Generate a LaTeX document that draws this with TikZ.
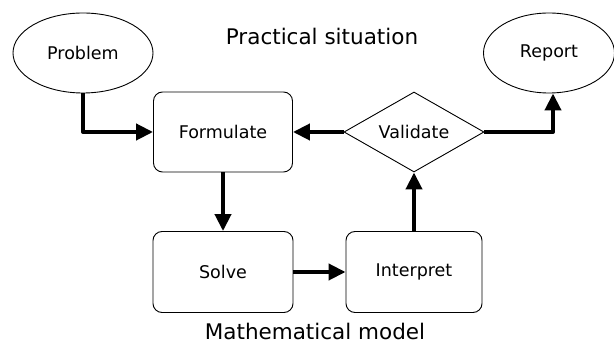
\documentclass[tikz,border=0pt]{standalone}
\usepackage{fontspec}
\setmainfont{DejaVu Sans}
\usetikzlibrary{shapes.geometric,arrows.meta}
\begin{document}
\begin{tikzpicture}[x=1pt,y=-1pt,
  endpt/.style={ellipse,draw,line width=0.9pt,minimum width=140pt,minimum height=80pt,inner sep=0pt,font=\fontsize{17.5}{20}\selectfont},
  procbox/.style={rectangle,rounded corners=9pt,draw,line width=0.9pt,minimum width=139pt,minimum height=80pt,inner sep=0pt,font=\fontsize{17.5}{20}\selectfont},
  decbox/.style={diamond,draw,line width=0.9pt,aspect=1.75,minimum width=140pt,minimum height=80pt,inner sep=0pt,font=\fontsize{17.5}{20}\selectfont},
  flow/.style={line width=4pt,line join=round,-{Triangle[length=17pt,width=16pt]}},
  lbl/.style={font=\fontsize{21.5}{24}\selectfont}]
\useasboundingbox (0,0) rectangle (614,347);
\node[endpt] (prob) at (83,53) {Problem};
\node[endpt,minimum width=131pt] (rep) at (549,53) {Report};
\node[procbox] (form) at (223,132) {Formulate};
\node[decbox] (val) at (414,132) {Validate};
\node[procbox,minimum width=140pt,minimum height=81pt] (solve) at (223,272) {Solve};
\node[procbox,minimum width=136pt,minimum height=81pt] (interp) at (414,272) {Interpret};
\node[lbl] (prac) at (322,36) {Practical situation};
\node[lbl] (math) at (315,331) {Mathematical model};
\draw[flow] (prob.south) |- (form.west);
\draw[flow] (val.west) -- (form.east);
\draw[flow] (val.east) -| ([xshift=4pt]rep.south);
\draw[flow] (form.south) -- (solve.north);
\draw[flow] (solve.east) -- (interp.west);
\draw[flow] (interp.north) -- (val.south);
\end{tikzpicture}
\end{document}
